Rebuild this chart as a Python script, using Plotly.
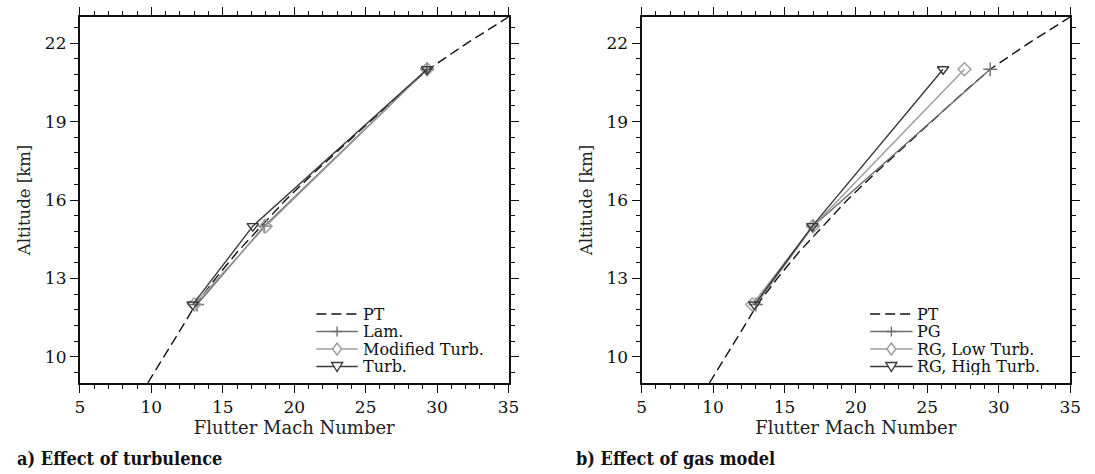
import plotly.graph_objects as go

# ---------------- data ----------------
pt_alt = [9, 10, 11, 12, 13, 14, 15, 16, 17, 18, 19, 20, 21, 22, 23]
pt_mach = [9.75, 10.9, 12.0, 13.1, 14.5, 16.0, 17.7, 19.4, 21.3, 23.3, 25.3, 27.3, 29.4, 32.1, 35.0]

alt_pts = [12, 15, 21]
# panel a) effect of turbulence
lam_mach = [13.2, 17.9, 29.3]
modturb_mach = [13.0, 18.0, 29.3]
turb_mach = [12.9, 17.1, 29.3]
# panel b) effect of gas model
pg_mach = [13.0, 17.0, 29.4]
rglow_mach = [12.75, 17.0, 27.6]
rghigh_mach = [12.9, 16.95, 26.1]

x_ticks = [5, 10, 15, 20, 25, 30, 35]
y_ticks = [10, 13, 16, 19, 22]

names_a = ["PT", "Lam.", "Modified Turb.", "Turb."]
names_b = ["PT", "PG", "RG, Low Turb.", "RG, High Turb."]
captions = ["a) Effect of turbulence", "b) Effect of gas model"]

# ---------------- styles ----------------
W, H = 1095, 474
SERIF = "DejaVu Serif"
SERIF_COND = "DejaVu Serif Condensed, DejaVu Serif"
C_PT = "#111111"
C_MID = "#6e6e6e"
C_LIGHT = "#9c9c9c"
C_DARK = "#3a3a3a"

styles = [
    dict(color=C_PT, dash="10px,5px", symbol=None),
    dict(color=C_MID, dash="solid", symbol="cross-thin"),
    dict(color=C_LIGHT, dash="solid", symbol="diamond-open"),
    dict(color=C_DARK, dash="solid", symbol="triangle-down-open"),
]

fig = go.Figure()


def add_panel(xa, ya, series, names):
    for (xs, ys), st, nm in zip(series, styles, names):
        if st["symbol"] is None:
            fig.add_trace(go.Scatter(x=xs, y=ys, mode="lines", name=nm,
                                     line=dict(color=st["color"], width=1.4, dash=st["dash"]),
                                     xaxis=xa, yaxis=ya, showlegend=False))
        else:
            fig.add_trace(go.Scatter(x=xs, y=ys, mode="lines+markers", name=nm,
                                     line=dict(color=st["color"], width=1.4),
                                     marker=dict(symbol=st["symbol"], size=10, color=st["color"],
                                                 line=dict(color=st["color"], width=1.4)),
                                     xaxis=xa, yaxis=ya, showlegend=False))


add_panel("x", "y", [(pt_mach, pt_alt), (lam_mach, alt_pts), (modturb_mach, alt_pts), (turb_mach, alt_pts)], names_a)
add_panel("x2", "y2", [(pt_mach, pt_alt), (pg_mach, alt_pts), (rglow_mach, alt_pts), (rghigh_mach, alt_pts)], names_b)

# ---------------- axes ----------------
top, bottom = 17, 383
ydom = [1 - bottom / H, 1 - top / H]


def xaxis(dom):
    return dict(domain=dom, range=[5, 35], tickvals=x_ticks, ticks="outside", ticklen=8, tickwidth=1.4,
                tickcolor="#111", showline=True, linewidth=2, linecolor="#111", mirror="ticks",
                showgrid=False, zeroline=False,
                minor=dict(dtick=1, tick0=5, ticks="outside", ticklen=4, tickwidth=1.2, tickcolor="#111", showgrid=False),
                tickfont=dict(family=SERIF, size=17, color="#111"),
                title=dict(text="Flutter Mach Number", font=dict(family=SERIF, size=18, color="#222"), standoff=5))


def yaxis(anchor):
    return dict(domain=ydom, range=[9, 23], tickvals=y_ticks, ticks="outside", ticklen=8, tickwidth=1.4,
                tickcolor="#111", showline=True, linewidth=2, linecolor="#111", mirror="ticks",
                showgrid=False, zeroline=False, anchor=anchor,
                minor=dict(dtick=0.6, tick0=10, ticks="outside", ticklen=4, tickwidth=1.2, tickcolor="#111", showgrid=False),
                tickfont=dict(family=SERIF, size=17, color="#111"),
                title=dict(text="Altitude [km]", font=dict(family=SERIF, size=16.5, color="#222"), standoff=10))


fig.update_layout(
    width=W, height=H, margin=dict(l=0, r=0, t=0, b=0),
    paper_bgcolor="white", plot_bgcolor="white", showlegend=False,
    font=dict(family=SERIF),
    xaxis=dict(xaxis([76 / W, 511 / W]), anchor="y"),
    yaxis=yaxis("x"),
    xaxis2=dict(xaxis([646 / W, 1081 / W]), anchor="y2"),
    yaxis2=yaxis("x2"),
)

# ---------------- manual legends (shapes + text) ----------------
marker_paths = [
    None,
    "M-5,0H5M0,-5V5",
    "M0,-6L4.5,0L0,6L-4.5,0Z",
    "M-5.5,4L5.5,4L0,-5Z",
]


def add_legend(x_start, x_end, rows, names):
    for row_y, st, nm, mp in zip(rows, styles, names, marker_paths):
        py = 1 - row_y / H
        fig.add_shape(type="line", xref="paper", yref="paper", x0=x_start / W, x1=x_end / W, y0=py, y1=py,
                      line=dict(color=st["color"], width=1.4, dash=st["dash"]))
        if mp is not None:
            fig.add_shape(type="path", xref="paper", yref="paper", xsizemode="pixel", ysizemode="pixel",
                          xanchor=(x_start + x_end) / 2 / W, yanchor=py, path=mp,
                          fillcolor="white", line=dict(color=st["color"], width=1.4))
        fig.add_annotation(x=(x_end + 4) / W, y=py, xref="paper", yref="paper", text=nm, showarrow=False,
                           xanchor="left", yanchor="middle", height=17, borderpad=0,
                           font=dict(family=SERIF, size=16, color="#111"))


legend_rows = [314, 331.5, 349, 366.5]
add_legend(316, 358, legend_rows, names_a)
add_legend(878, 921, legend_rows, names_b)

# captions
for cx, txt in zip([10, 577], captions):
    fig.add_annotation(x=cx / W, y=1 - 458 / H, xref="paper", yref="paper", text="<b>" + txt + "</b>",
                       showarrow=False, xanchor="left", yanchor="middle",
                       font=dict(family=SERIF_COND, size=18, color="#111"))

fig.write_html("out.html")
